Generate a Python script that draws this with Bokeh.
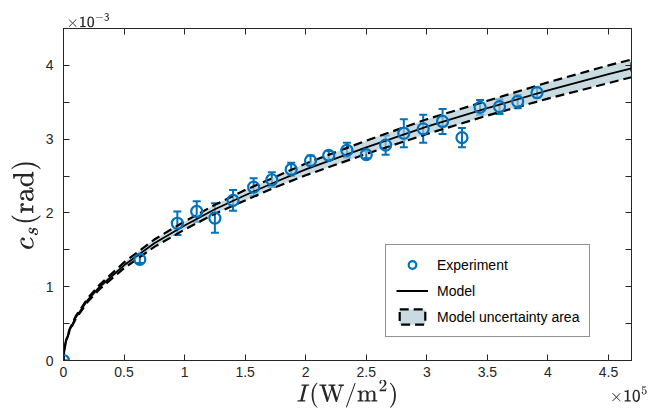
from bokeh.plotting import figure
from bokeh.models import (ColumnDataSource, Range1d, LinearAxis, FixedTicker, CustomJSTickFormatter,
                          Whisker, TeeHead, Legend, LegendItem, Title)
from bokeh.embed import file_html
from bokeh.resources import INLINE

# Experiment data (I in 1e5 W/m^2, c_s in 1e-3 rad)
exp_I = [0.0, 0.63, 0.94, 1.10, 1.25, 1.40, 1.57, 1.72, 1.88, 2.04, 2.19,
         2.34, 2.50, 2.66, 2.81, 2.97, 3.13, 3.29, 3.44, 3.60, 3.75, 3.91]
exp_c = [0.0, 1.37, 1.86, 2.02, 1.93, 2.17, 2.35, 2.45, 2.59, 2.71, 2.78,
         2.85, 2.79, 2.92, 3.08, 3.14, 3.24, 3.02, 3.43, 3.44, 3.51, 3.63]
exp_err = [0.0, 0.05, 0.16, 0.14, 0.20, 0.14, 0.12, 0.10, 0.09, 0.07, 0.06,
           0.10, 0.05, 0.13, 0.19, 0.19, 0.17, 0.13, 0.10, 0.10, 0.09, 0.07]

# Model curve and uncertainty bounds
model_I = [0.0, 0.005, 0.02, 0.05, 0.1, 0.2, 0.3, 0.5, 0.75, 1.0, 1.25, 1.5,
           1.75, 2.0, 2.5, 3.0, 3.5, 4.0, 4.5, 4.69]
model_c = [0.0, 0.13, 0.26, 0.41, 0.58, 0.82, 1.00, 1.29, 1.59, 1.83, 2.05, 2.24,
           2.42, 2.59, 2.89, 3.17, 3.42, 3.66, 3.88, 3.96]
model_lo = [0.0, 0.126, 0.252, 0.397, 0.563, 0.795, 0.97, 1.25, 1.54, 1.775, 1.99, 2.17,
            2.35, 2.51, 2.80, 3.07, 3.32, 3.55, 3.76, 3.84]
model_hi = [0.0, 0.134, 0.268, 0.423, 0.597, 0.845, 1.03, 1.33, 1.64, 1.885, 2.11, 2.31,
            2.49, 2.67, 2.98, 3.27, 3.52, 3.77, 4.00, 4.08]

x_ticks = [0, 0.5, 1, 1.5, 2, 2.5, 3, 3.5, 4, 4.5]
y_ticks = [0, 1, 2, 3, 4]
y_minor = [0.5, 1.5, 2.5, 3.5, 4.5]

AX = "#262626"
BLUE = "#0072BD"
BAND = "#a9c8d0"
FONT = "Liberation Sans"

p = figure(width=662, height=410, output_backend="svg", toolbar_location=None,
           x_range=Range1d(0, 4.69), y_range=Range1d(0, 4.5),
           min_border_left=63, min_border_right=31, min_border_top=28, min_border_bottom=50)
p.grid.visible = False
p.outline_line_color = AX
p.outline_line_width = 1
p.background_fill_color = "white"
p.border_fill_color = "white"

fmt = CustomJSTickFormatter(code="return String(Math.round(tick*10)/10);")
blank = CustomJSTickFormatter(code="return '';")

def style_axis(ax, ticker, labels=True):
    ax.ticker = ticker
    ax.formatter = fmt if labels else blank
    ax.axis_line_color = AX
    ax.major_tick_line_color = AX
    ax.minor_tick_line_color = AX
    ax.major_tick_in = 6
    ax.major_tick_out = 0
    ax.minor_tick_in = 6
    ax.minor_tick_out = 0
    ax.major_label_text_font = FONT
    ax.major_label_text_font_size = "14px"
    ax.major_label_text_color = AX
    ax.major_label_standoff = 8 if labels else 0

style_axis(p.xaxis[0], FixedTicker(ticks=x_ticks))
style_axis(p.yaxis[0], FixedTicker(ticks=y_ticks, minor_ticks=y_minor))
p.xaxis[0].major_label_standoff = 6
p.yaxis[0].major_label_standoff = 10

p.xaxis.axis_label = (r"$$\phantom{{\scriptsize\times\mathsf{10}^{5}}}\hspace{8.5em}"
                      r"I(\mathrm{W/m^2})\hspace{8.5em}{\scriptsize\times\mathsf{10}^{5}}$$")
p.yaxis.axis_label = r"$$c_s(\mathrm{rad})\hspace{0.7em}$$"
p.xaxis.axis_label_text_font_size = "20px"
p.yaxis.axis_label_text_font_size = "23px"
p.xaxis.axis_label_standoff = 0
p.yaxis.axis_label_standoff = 2
p.xaxis.axis_label_text_color = AX
p.yaxis.axis_label_text_color = AX

top_ax = LinearAxis()
style_axis(top_ax, FixedTicker(ticks=x_ticks), labels=False)
right_ax = LinearAxis()
style_axis(right_ax, FixedTicker(ticks=y_ticks, minor_ticks=y_minor), labels=False)
p.add_layout(top_ax, "above")
p.add_layout(right_ax, "right")

p.add_layout(Title(text=r"$$\times\mathsf{10}^{\mathsf{-3}}$$", align="left", offset=3,
                   text_font=FONT, text_font_size="13px", text_font_style="normal",
                   text_color=AX, standoff=1), "above")

# uncertainty band as a patch with dashed edge (upper bound then lower bound reversed)
band_x = model_I + model_I[::-1]
band_y = model_hi + model_lo[::-1]
band_r = p.patch(x=band_x, y=band_y, fill_color=BAND, fill_alpha=0.65,
                 line_color="black", line_width=2.2, line_dash="9 5")

msrc = ColumnDataSource(dict(x=model_I, y=model_c))
model_r = p.line(x="x", y="y", source=msrc, line_color="black", line_width=1.8)

esrc = ColumnDataSource(dict(x=exp_I, y=exp_c,
                             lower=[c - e for c, e in zip(exp_c, exp_err)],
                             upper=[c + e for c, e in zip(exp_c, exp_err)]))
wh = Whisker(base="x", lower="lower", upper="upper", source=esrc,
             line_color=BLUE, line_width=2,
             upper_head=TeeHead(size=8, line_color=BLUE, line_width=2),
             lower_head=TeeHead(size=8, line_color=BLUE, line_width=2))
p.add_layout(wh)
exp_r = p.scatter(x="x", y="y", source=esrc, marker="circle", size=11,
                  fill_color=None, line_color=BLUE, line_width=2.2)

legend = Legend(items=[LegendItem(label="Experiment", renderers=[exp_r]),
                       LegendItem(label="Model", renderers=[model_r]),
                       LegendItem(label="Model uncertainty area", renderers=[band_r])],
                location=(322, 23), glyph_width=32, glyph_height=19, label_standoff=9,
                spacing=7, padding=10, margin=0,
                label_text_font=FONT, label_text_font_size="14px", label_text_color="black",
                border_line_color=AX, border_line_width=1, background_fill_alpha=1.0)
p.add_layout(legend, "center")

open("out.html", "w").write(file_html(p, INLINE))
